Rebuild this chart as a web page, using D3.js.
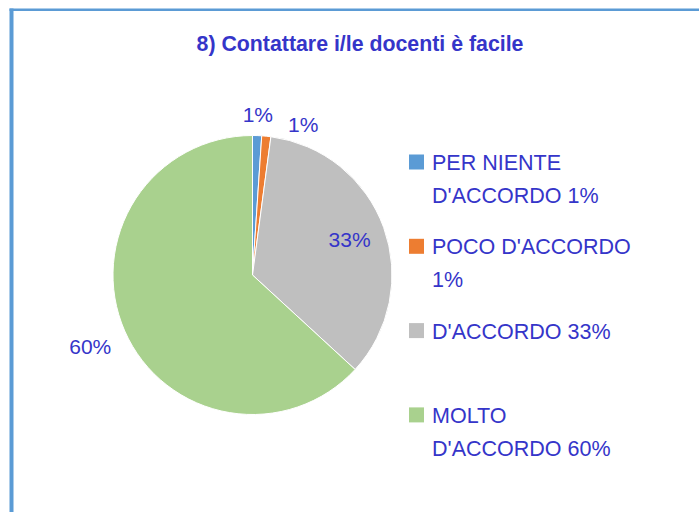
<!DOCTYPE html>
<html>
<head>
<meta charset="utf-8">
<script src="https://cdn.jsdelivr.net/npm/d3@7"></script>
<style>
  html, body { margin: 0; padding: 0; background: #ffffff; }
  svg { display: block; }
</style>
</head>
<body>
<div id="chart"></div>
<script>
// Survey answers for question 8
const title = "8) Contattare i/le docenti è facile";
const categories = ["PER NIENTE D'ACCORDO", "POCO D'ACCORDO", "D'ACCORDO", "MOLTO D'ACCORDO"];
const values = [1, 1, 33, 60];
const valueLabels = ["1%", "1%", "33%", "60%"];
const legendLines = [
  ["PER NIENTE", "D'ACCORDO 1%"],
  ["POCO D'ACCORDO", "1%"],
  ["D'ACCORDO 33%"],
  ["MOLTO", "D'ACCORDO 60%"]
];
const colors = ["#5b9bd5", "#ed7d31", "#bfbfbf", "#a9d18e"];

const W = 699, H = 512;
const textColor = "#3535c9";
const font = "'Liberation Sans', Arial, sans-serif";

const svg = d3.select("#chart").append("svg")
  .attr("width", W).attr("height", H);

svg.append("rect").attr("width", W).attr("height", H).attr("fill", "#fff");

// frame: left and top edges
svg.append("rect").attr("x", 9.5).attr("y", 8.5).attr("width", 4).attr("height", H - 8.5).attr("fill", "#5b9bd5");
svg.append("rect").attr("x", 9.5).attr("y", 8.5).attr("width", W - 9.5).attr("height", 2.5).attr("fill", "#5b9bd5");

// title, fitted to its box width
const titleText = svg.append("text")
  .attr("x", 360).attr("y", 51)
  .attr("text-anchor", "middle")
  .attr("font-family", font)
  .attr("font-weight", "bold")
  .attr("font-size", 18)
  .attr("fill", textColor)
  .text(title);
const tw = titleText.node().getComputedTextLength();
titleText.attr("font-size", 18 * 327 / tw);

// pie
const cx = 252.5, cy = 275, R = 139.5;
const color = d3.scaleOrdinal().domain(categories).range(colors);
const pie = d3.pie().sort(null).value(d => d.value);
const data = categories.map((c, i) => ({ cat: c, value: values[i], label: valueLabels[i] }));
const arcs = pie(data);
const arc = d3.arc().innerRadius(0).outerRadius(R);

const g = svg.append("g").attr("transform", `translate(${cx},${cy})`);
g.selectAll("path.slice").data(arcs).join("path")
  .attr("class", "slice")
  .attr("d", arc)
  .attr("fill", d => color(d.data.cat))
  .attr("stroke", "#ffffff")
  .attr("stroke-width", 1);

// value labels: inside for large slices that fit, outside otherwise
const labelFont = 21;
const placed = [];
arcs.forEach((d, i) => {
  const span = d.endAngle - d.startAngle;
  const mid = (d.startAngle + d.endAngle) / 2;
  let r;
  if (span < 0.3) r = R * 1.15;
  else if (d.data.value > 50) r = R * 1.27;
  else r = R * 0.74;
  let x = Math.sin(mid) * r, y = -Math.cos(mid) * r;
  const t = g.append("text")
    .attr("font-family", font)
    .attr("font-size", labelFont)
    .attr("fill", textColor)
    .attr("text-anchor", "middle")
    .attr("dominant-baseline", "central")
    .text(d.data.label);
  const w = t.node().getComputedTextLength();
  // push apart neighbouring outside labels that collide
  const prev = placed[placed.length - 1];
  if (prev && Math.abs(prev.y - y) < labelFont && Math.abs(prev.x - x) < (prev.w + w) / 2 + 10) {
    x = prev.x + (prev.w + w) / 2 + 15;
    y = prev.y + 10;
  }
  t.attr("x", x).attr("y", y);
  placed.push({ x, y, w });
});

// legend
const legendX = 409, legendTextX = 432, firstBaseline = 170, itemStep = 84.3, lineStep = 32.7;
const legend = svg.append("g");
legendLines.forEach((lines, i) => {
  const base = firstBaseline + i * itemStep;
  legend.append("rect")
    .attr("x", legendX).attr("y", base - 15.5)
    .attr("width", 15).attr("height", 15)
    .attr("fill", colors[i]);
  lines.forEach((ln, j) => {
    legend.append("text")
      .attr("x", legendTextX).attr("y", base + j * lineStep)
      .attr("font-family", font)
      .attr("font-size", 21.5)
      .attr("fill", textColor)
      .text(ln);
  });
});
</script>
</body>
</html>
